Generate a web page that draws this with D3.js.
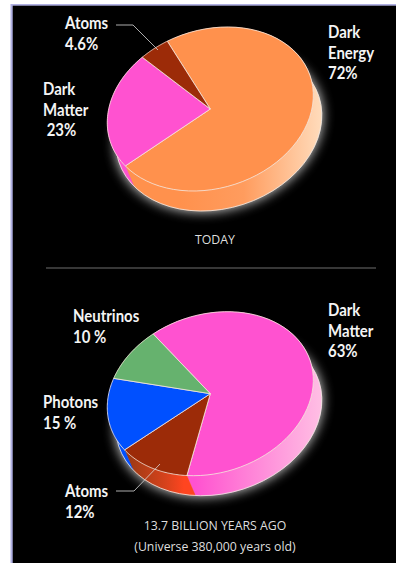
<!DOCTYPE html>
<html><head><meta charset="utf-8">
<style>html,body{margin:0;padding:0;background:#fff}svg{display:block}</style>
<script src="https://cdn.jsdelivr.net/npm/d3@7"></script>
</head><body><svg id="c" width="396" height="563"></svg>
<script>
const todayNames = ["Dark Energy","Dark Matter","Atoms"];
const todayValues = [72,23,4.6];
const todayColors = ["#ff914d","#ff52d0","#9c2b08"];
const earlyNames = ["Dark Matter","Atoms","Photons","Neutrinos"];
const earlyValues = [63,12,15,10];
const earlyColors = ["#ff52d0","#9c2b08","#0050ff","#66b26e"];
const labels = [
 {lines:["Atoms","4.6%"],x:65,y:29},
 {lines:["Dark","Matter"," 23%"],x:43,y:95},
 {lines:["Dark","Energy","72%"],x:328,y:38},
 {lines:["Neutrinos","10 %"],x:73,y:322},
 {lines:["Photons","15 %"],x:43,y:408},
 {lines:["Atoms","12%"],x:65,y:497},
 {lines:["Dark","Matter","63%"],x:328,y:316}
];
const captions = [
 {t:"TODAY",x:215,y:244},
 {t:"13.7 BILLION YEARS AGO",x:215,y:530},
 {t:"(Universe 380,000 years old)",x:215,y:551}
];
const svg = d3.select("#c");
const defs = svg.append("defs");
const blur = defs.append("filter").attr("id","glow").attr("x","-30%").attr("y","-30%").attr("width","160%").attr("height","160%");
blur.append("feGaussianBlur").attr("stdDeviation",6);
function grad(id,stops,x1,x2){
  const g=defs.append("linearGradient").attr("id",id).attr("gradientUnits","userSpaceOnUse")
    .attr("x1",x1).attr("x2",x2).attr("y1",0).attr("y2",0);
  stops.forEach(s=>g.append("stop").attr("offset",s[0]).attr("stop-color",s[1]));
  return `url(#${id})`;
}
svg.append("rect").attr("width",396).attr("height",563).attr("fill","#fff");
svg.append("rect").attr("x",10.5).attr("y",4).attr("width",386).attr("height",559).attr("fill","#b0b0e2");
svg.append("rect").attr("x",12.7).attr("y",5.7).attr("width",384).attr("height",558).attr("fill","#000");

const rad=Math.PI/180;
function drawPie(values,colors,start,cx,cy,sideFills){
  const a=105.2,b=79.2,tilt=17.9*rad,dx=8.5,dy=20;
  const us=d3.scaleLinear().domain([-1,1]).range([-a,a]);
  const vs=d3.scaleLinear().domain([-1,1]).range([-b,b]);
  const arcs=d3.pie().sort(null).startAngle(start*rad).endAngle((start+360)*rad)(values);
  const pts=(p,q)=>d3.range(0,61).map(i=>p+(q-p)*i/60);
  const P=t=>{const u=us(Math.sin(t)),v=vs(-Math.cos(t));
    return [cx+u*Math.cos(tilt)+v*Math.sin(tilt),cy-u*Math.sin(tilt)+v*Math.cos(tilt)];};
  const line=d3.line();
  const full=pts(0,2*Math.PI).map(P);
  const low=full.map(p=>[p[0]+dx,p[1]+dy]);
  // glow
  svg.append("path").attr("d",line(low)+"Z").attr("fill","#fff").attr("stroke","#fff").attr("stroke-width",2)
    .attr("opacity",.8).attr("filter","url(#glow)");
  // side walls
  arcs.forEach((d,i)=>{
    const top=pts(d.startAngle,d.endAngle).map(P);
    const bot=top.map(p=>[p[0]+dx,p[1]+dy]).reverse();
    svg.append("path").attr("d",line(top.concat(bot))+"Z").attr("fill",sideFills[i]).attr("stroke",sideFills[i]).attr("stroke-width",.3);
  });
  // outer lower edge
  svg.append("path").attr("d",line(low)+"Z").attr("fill","none").attr("stroke","#f4ece6").attr("stroke-width",.8);
  // top faces
  arcs.forEach((d,i)=>{
    const rim=pts(d.startAngle,d.endAngle).map(P);
    svg.append("path").attr("d",line([[cx,cy]].concat(rim))+"Z")
      .attr("fill",colors[i]).attr("stroke","#f6e6dc").attr("stroke-width",.8).attr("stroke-linejoin","round");
  });
}
drawPie(todayValues,todayColors,-11,210.3,109,[
  grad("g1",[[0,"#ff914d"],[.45,"#ff9c5e"],[1,"#ffdcbc"]],180,322),"#ff52d0","#9c2b08"]);
drawPie(earlyValues,earlyColors,-20,210.3,393.7,[
  grad("g2",[[0,"#ff52d0"],[.35,"#ff7ad6"],[1,"#ffbfe4"]],195,322),
  grad("g3",[[0,"#9c3a14"],[.55,"#d8421c"],[.8,"#ff4520"],[1,"#ff4520"]],128,198),
  "#0050ff","#66b26e"]);

// leaders
const lead=d3.line();
[[[116,25],[133,25],[158,50]],[[116,491],[134,491],[160,464]]].forEach(p=>
  svg.append("path").attr("d",lead(p)).attr("fill","none").attr("stroke","#d8d8d8").attr("stroke-width",.8));
svg.append("line").attr("x1",46).attr("x2",376).attr("y1",268).attr("y2",268).attr("stroke","#8a8a8a").attr("stroke-width",.8);

labels.forEach(l=>{
  l.lines.forEach((s,i)=>svg.append("text").attr("transform",`translate(${l.x},${l.y+i*20.7}) scale(.88,1)`)
    .attr("fill","#f4f4f4").attr("font-family","Lato,sans-serif").attr("font-weight",700)
    .attr("font-size",17).style("white-space","pre").text(s));
});
captions.forEach(c=>svg.append("text").attr("x",c.x).attr("y",c.y).attr("text-anchor","middle")
  .attr("fill","#dedede").attr("font-family","'Open Sans',sans-serif").attr("font-size",12.3).text(c.t));
</script></body></html>
